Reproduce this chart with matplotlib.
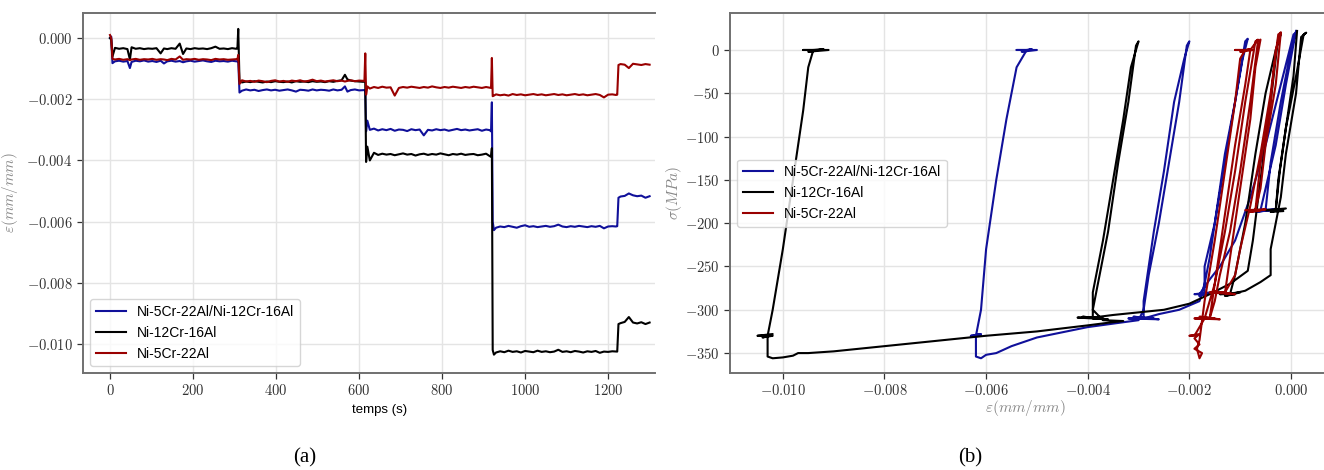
import numpy as np
import matplotlib
matplotlib.use("Agg")
import matplotlib.pyplot as plt
from matplotlib.ticker import FuncFormatter

plt.rcParams['mathtext.fontset'] = 'cm'

# ---------------- DATA ----------------
labels = ['Ni-5Cr-22Al/Ni-12Cr-16Al', 'Ni-12Cr-16Al', 'Ni-5Cr-22Al']
colors = ['#10109a', '#000000', '#990000']

time_s = [0, 3, 6,
          12, 22, 32, 42, 48, 52, 62, 72, 82, 92, 102, 112, 122, 130, 138, 148, 158, 168, 176, 184,
          194, 204, 214, 224, 234, 244, 254, 264, 274, 284, 294, 304,
          307, 309, 312,
          318, 328, 338, 348, 358, 368, 378, 388, 398, 408, 418, 428, 438, 448, 458, 468, 478, 488,
          498, 508, 518, 528, 538, 548, 558, 566, 572, 580, 590, 600, 610,
          613, 615, 617, 620,
          626, 636, 646, 656, 666, 676, 686, 696, 706, 716, 726, 736, 746, 756, 766, 776, 786, 796,
          806, 816, 826, 836, 846, 856, 866, 876, 886, 896, 906, 915,
          918, 920, 922, 925,
          930, 940, 950, 960, 970, 980, 990, 1000, 1010, 1020, 1030, 1040, 1050, 1060, 1070, 1080,
          1090, 1100, 1110, 1120, 1130, 1140, 1150, 1160, 1170, 1180, 1190, 1200, 1210, 1219,
          1222, 1225,
          1230, 1240, 1250, 1260, 1270, 1280, 1290, 1300]

strain_blue = [0.0, 0.00005, -0.00082,
    -0.00076, -0.00074, -0.00077, -0.00075, -0.00098, -0.00078, -0.00074, -0.00076, -0.00073, -0.00077,
    -0.00075, -0.00078, -0.00074, -0.00083, -0.00076, -0.00074, -0.00077, -0.00075, -0.00079, -0.00076,
    -0.00074, -0.00077, -0.00075, -0.00073, -0.00076, -0.00078, -0.00074, -0.00076, -0.00075, -0.00077,
    -0.00074, -0.00076,
    -0.00076, -0.00075, -0.00178,
    -0.00172, -0.00168, -0.00171, -0.00169, -0.00173, -0.00170, -0.00168, -0.00171, -0.00169, -0.00172,
    -0.00170, -0.00168, -0.00171, -0.00175, -0.00169, -0.00170, -0.00172, -0.00168, -0.00171, -0.00169,
    -0.00170, -0.00172, -0.00168, -0.00171, -0.00169, -0.00158, -0.00175, -0.00170, -0.00168, -0.00171,
    -0.00170,
    -0.00170, -0.00172, -0.00305, -0.00270,
    -0.00300, -0.00296, -0.00302, -0.00298, -0.00301, -0.00297, -0.00303, -0.00299, -0.00300, -0.00304,
    -0.00298, -0.00301, -0.00299, -0.00318, -0.00300, -0.00302, -0.00298, -0.00301, -0.00299, -0.00303,
    -0.00300, -0.00297, -0.00301, -0.00299, -0.00302, -0.00300, -0.00298, -0.00303, -0.00299, -0.00301,
    -0.00305, -0.00210, -0.00600, -0.00628,
    -0.00620, -0.00616, -0.00618, -0.00614, -0.00617, -0.00620, -0.00615, -0.00612, -0.00617, -0.00615,
    -0.00618, -0.00616, -0.00614, -0.00617, -0.00615, -0.00610, -0.00616, -0.00618, -0.00615, -0.00617,
    -0.00614, -0.00616, -0.00618, -0.00615, -0.00617, -0.00614, -0.00622, -0.00616, -0.00615, -0.00616,
    -0.00615, -0.00522,
    -0.00518, -0.00516, -0.00508, -0.00514, -0.00517, -0.00515, -0.00522, -0.00517]

strain_black = [0.0, -0.00005, -0.00060,
    -0.00032, -0.00035, -0.00033, -0.00036, -0.00070, -0.00030, -0.00035, -0.00033, -0.00036, -0.00034,
    -0.00035, -0.00033, -0.00050, -0.00034, -0.00036, -0.00033, -0.00035, -0.00018, -0.00052, -0.00034,
    -0.00036, -0.00033, -0.00035, -0.00034, -0.00036, -0.00033, -0.00028, -0.00035, -0.00034, -0.00036,
    -0.00033, -0.00035,
    -0.00034, 0.00030, -0.00140,
    -0.00145, -0.00142, -0.00144, -0.00141, -0.00143, -0.00145, -0.00142, -0.00144, -0.00141, -0.00143,
    -0.00144, -0.00142, -0.00145, -0.00141, -0.00143, -0.00142, -0.00144, -0.00141, -0.00143, -0.00142,
    -0.00144, -0.00141, -0.00143, -0.00140, -0.00138, -0.00120, -0.00135, -0.00139, -0.00141, -0.00142,
    -0.00143,
    -0.00142, -0.00145, -0.00405, -0.00355,
    -0.00400, -0.00375, -0.00382, -0.00378, -0.00381, -0.00379, -0.00383, -0.00380, -0.00377, -0.00381,
    -0.00379, -0.00384, -0.00380, -0.00378, -0.00382, -0.00379, -0.00381, -0.00377, -0.00380, -0.00383,
    -0.00379, -0.00381, -0.00378, -0.00382, -0.00380, -0.00379, -0.00383, -0.00381, -0.00378, -0.00386,
    -0.00388, -0.00360, -0.01020, -0.01035,
    -0.01028, -0.01024, -0.01027, -0.01022, -0.01026, -0.01024, -0.01028, -0.01023, -0.01025, -0.01027,
    -0.01022, -0.01026, -0.01024, -0.01027, -0.01025, -0.01019, -0.01026, -0.01024, -0.01027, -0.01023,
    -0.01025, -0.01028, -0.01024, -0.01026, -0.01023, -0.01029, -0.01025, -0.01026, -0.01024, -0.01025,
    -0.01025, -0.00935,
    -0.00932, -0.00928, -0.00912, -0.00930, -0.00933, -0.00929, -0.00935, -0.00930]

strain_red = [0.00010, 0.0, -0.00068,
    -0.00070, -0.00068, -0.00071, -0.00069, -0.00072, -0.00070, -0.00068, -0.00071, -0.00069, -0.00070,
    -0.00068, -0.00071, -0.00069, -0.00070, -0.00072, -0.00068, -0.00070, -0.00060, -0.00071, -0.00069,
    -0.00070, -0.00068, -0.00071, -0.00069, -0.00070, -0.00072, -0.00068, -0.00070, -0.00069, -0.00071,
    -0.00070, -0.00069,
    -0.00070, -0.00055, -0.00150,
    -0.00138, -0.00142, -0.00140, -0.00143, -0.00139, -0.00141, -0.00144, -0.00140, -0.00138, -0.00142,
    -0.00140, -0.00143, -0.00139, -0.00141, -0.00138, -0.00142, -0.00140, -0.00136, -0.00141, -0.00139,
    -0.00142, -0.00140, -0.00138, -0.00141, -0.00139, -0.00142, -0.00140, -0.00138, -0.00141, -0.00139,
    -0.00140,
    -0.00140, -0.00050, -0.00185, -0.00158,
    -0.00165, -0.00160, -0.00163, -0.00159, -0.00162, -0.00161, -0.00188, -0.00163, -0.00160, -0.00162,
    -0.00159, -0.00161, -0.00163, -0.00160, -0.00162, -0.00158, -0.00161, -0.00163, -0.00160, -0.00162,
    -0.00159, -0.00161, -0.00163, -0.00160, -0.00162, -0.00159, -0.00161, -0.00163, -0.00160, -0.00162,
    -0.00163, -0.00065, -0.00190, -0.00188,
    -0.00184, -0.00187, -0.00185, -0.00188, -0.00183, -0.00186, -0.00184, -0.00187, -0.00185, -0.00183,
    -0.00186, -0.00184, -0.00187, -0.00185, -0.00183, -0.00186, -0.00184, -0.00187, -0.00185, -0.00183,
    -0.00186, -0.00184, -0.00187, -0.00185, -0.00183, -0.00186, -0.00194, -0.00185, -0.00184, -0.00186,
    -0.00185, -0.00088,
    -0.00085, -0.00087, -0.00098, -0.00084, -0.00086, -0.00088, -0.00085, -0.00087]

# stress-strain paths (panel b)
eps_blue = [0.0001, -0.0001, -0.0003, -0.0005, -0.0006,
            -0.0008, -0.0003, -0.0007, -0.0004, -0.0005,
            -0.0004, -0.0002, 0.0, 0.0001,
            0.00005, -0.0002, -0.0005, -0.0008, -0.0011, -0.0014, -0.0016, -0.0018,
            -0.0019, -0.0016, -0.0018, -0.00165, -0.0017,
            -0.0017, -0.0015, -0.0013, -0.0011, -0.00095, -0.00085,
            -0.0009, -0.0011, -0.0013, -0.0015, -0.0016, -0.0017, -0.0018, -0.0022, -0.0026, -0.0029,
            -0.0032, -0.0026, -0.0031, -0.0027, -0.0029,
            -0.0029, -0.0027, -0.0025, -0.0023, -0.0021, -0.0020,
            -0.00205, -0.0022, -0.0024, -0.0026, -0.0028, -0.0029, -0.0030, -0.0035, -0.0040, -0.0050,
            -0.0055, -0.0058, -0.0060, -0.0061, -0.0062, -0.0062, -0.0062,
            -0.0063, -0.0061, -0.0063, -0.0061, -0.0062,
            -0.0061, -0.0060, -0.0058, -0.0056, -0.0054, -0.0052,
            -0.0054, -0.0050, -0.0053, -0.0051, -0.0052]
sig_blue = [22, -40, -110, -160, -185,
            -185, -184, -187, -185, -185,
            -130, -60, 0, 20,
            18, -40, -110, -170, -220, -250, -265, -282,
            -282, -280, -284, -281, -282,
            -250, -200, -120, -60, -10, 13,
            10, -60, -130, -200, -240, -270, -290, -300, -305, -310,
            -310, -311, -308, -310, -310,
            -290, -210, -140, -60, -10, 10,
            5, -60, -130, -200, -260, -300, -312, -316, -320, -332,
            -342, -350, -352, -356, -354, -340, -330,
            -330, -328, -331, -330, -330,
            -300, -230, -150, -80, -20, 0,
            0, 0, -2, 1, 0]

eps_black = [0.00012, 0.00005, -0.0001, -0.00022, -0.0003,
             -0.0005, -0.0001, -0.0004, -0.00015, -0.0003,
             -0.00025, -0.0001, 0.0001, 0.00025, 0.0003,
             0.0002, 0.0001, -0.0001, -0.0002, -0.0003, -0.0004, -0.0004, -0.0006, -0.0009, -0.0012,
             -0.0014, -0.0010, -0.0013, -0.0011, -0.0012,
             -0.0011, -0.0009, -0.0007, -0.0005, -0.0003, -0.0002,
             -0.00025, -0.0004, -0.0006, -0.00075, -0.00085, -0.0012, -0.0016, -0.0020, -0.0025,
             -0.0030, -0.0035, -0.0039,
             -0.0042, -0.0036, -0.0041, -0.0037, -0.0039,
             -0.0039, -0.0037, -0.0035, -0.0033, -0.00315, -0.0030,
             -0.00305, -0.0032, -0.0034, -0.0036, -0.0038, -0.0039, -0.0037, -0.0033, -0.0036, -0.0040,
             -0.0050, -0.0060, -0.0070, -0.0080, -0.0090, -0.0095, -0.0097, -0.0098, -0.0100, -0.0102,
             -0.0103, -0.0103, -0.0103,
             -0.0105, -0.0102, -0.0104, -0.0102, -0.0103,
             -0.0102, -0.0100, -0.0098, -0.0096, -0.0095, -0.0094,
             -0.0096, -0.0091, -0.0095, -0.0092, -0.0094]
sig_black = [22, -30, -90, -140, -185,
             -185, -183, -187, -186, -185,
             -150, -90, -30, 18, 20,
             15, -50, -120, -170, -200, -230, -260, -268, -278, -282,
             -282, -280, -284, -282, -282,
             -260, -200, -120, -50, 0, 18,
             15, -60, -150, -220, -255, -270, -282, -293, -300,
             -303, -306, -309,
             -309, -311, -308, -310, -310,
             -280, -220, -150, -80, -20, 10,
             5, -60, -130, -210, -270, -300, -312, -313, -315, -318,
             -325, -330, -336, -342, -348, -350, -350, -353, -355, -356,
             -354, -340, -330,
             -330, -328, -332, -330, -330,
             -300, -230, -150, -70, -20, 0,
             0, 0, -2, 1, 0]

eps_red = [-0.0002, -0.0003, -0.0005, -0.0006, -0.0007,
           -0.0009, -0.0005, -0.0008, -0.0006, -0.0007,
           -0.0006, -0.0004, -0.0003, -0.0002,
           -0.00025, -0.0004, -0.0006, -0.0008, -0.0010, -0.0011, -0.0013,
           -0.0016, -0.0011, -0.0015, -0.0012, -0.0013,
           -0.0012, -0.0010, -0.0008, -0.0007, -0.0006,
           -0.00065, -0.0008, -0.0010, -0.0012, -0.0014, -0.0015, -0.0016,
           -0.0019, -0.0014, -0.0018, -0.0015, -0.0016,
           -0.0015, -0.0013, -0.0011, -0.0009, -0.0008, -0.00065,
           -0.0007, -0.0009, -0.0011, -0.0013, -0.0015, -0.0017, -0.0019,
           -0.0020, -0.0018, -0.0019, -0.0018, -0.0019, -0.00175, -0.0018, -0.00185, -0.0018,
           -0.0017, -0.0015, -0.0013, -0.0011, -0.0010, -0.0009,
           -0.0011, -0.00075, -0.0010, -0.0008, -0.0009]
sig_red = [20, -40, -110, -160, -185,
           -185, -184, -187, -185, -185,
           -130, -60, 0, 20,
           18, -50, -120, -180, -230, -260, -280,
           -280, -282, -279, -281, -281,
           -240, -160, -80, -20, 12,
           10, -60, -140, -210, -260, -290, -310,
           -310, -311, -308, -310, -310,
           -270, -190, -110, -40, 0, 12,
           10, -60, -140, -210, -270, -310, -330,
           -330, -328, -333, -340, -345, -350, -356, -345, -335,
           -290, -220, -140, -60, -10, 0,
           0, 0, -2, 1, 0]

# ---------------- FIGURE ----------------
fig = plt.figure(figsize=(13.24, 4.70), dpi=100)
axA = fig.add_axes([83/1324, 1-373/470, (655-83)/1324, 360/470])
axB = fig.add_axes([730/1324, 1-373/470, (1324-730)/1324, 360/470])

spine_col = '#707070'
for ax in (axA, axB):
    for s in ('top', 'left', 'bottom'):
        ax.spines[s].set_color(spine_col)
        ax.spines[s].set_linewidth(1.4)
    ax.spines['right'].set_visible(False)
    ax.grid(True, color='#e4e4e4', lw=1.0)
    ax.set_axisbelow(True)
    ax.tick_params(direction='out', length=4, width=0.9, color='#333333',
                   labelsize=10.5, labelcolor='#333333')

lw = 1.5
axA.plot(time_s, strain_blue, color=colors[0], lw=lw, label=labels[0])
axA.plot(time_s, strain_black, color=colors[1], lw=lw, label=labels[1])
axA.plot(time_s, strain_red, color=colors[2], lw=lw, label=labels[2])
axA.set_xlim(-65, 1313)
axA.set_ylim(-0.01095, 0.00082)
axA.set_xticks([0, 200, 400, 600, 800, 1000, 1200])
axA.set_yticks([0.0, -0.002, -0.004, -0.006, -0.008, -0.010])
axA.xaxis.set_major_formatter(FuncFormatter(lambda v, p: f'${v:.0f}$'))
axA.yaxis.set_major_formatter(FuncFormatter(lambda v, p: f'${v:.3f}$'))
axA.set_xlabel('temps (s)', family='Liberation Sans', fontsize=9.5)
axA.xaxis.set_label_coords((380 - 83) / 572, -0.085)
axA.set_ylabel(r'$\varepsilon(mm/mm)$', color='#888888', fontsize=11)
axA.yaxis.set_label_coords(-0.11, 0.5)
axA.legend(loc='lower left', prop={'family': 'Liberation Sans', 'size': 10},
           handlelength=2.2)

axB.plot(eps_blue, sig_blue, color=colors[0], lw=lw, label=labels[0])
axB.plot(eps_black, sig_black, color=colors[1], lw=lw, label=labels[1])
axB.plot(eps_red, sig_red, color=colors[2], lw=lw, label=labels[2])
axB.set_xlim(-0.01104, 0.00065)
axB.set_ylim(-373, 42.7)
axB.set_xticks([-0.010, -0.008, -0.006, -0.004, -0.002, 0.0])
axB.set_yticks([0, -50, -100, -150, -200, -250, -300, -350])
axB.xaxis.set_major_formatter(FuncFormatter(lambda v, p: f'${v:.3f}$'))
axB.yaxis.set_major_formatter(FuncFormatter(lambda v, p: f'${v:.0f}$'))
axB.set_xlabel(r'$\varepsilon(mm/mm)$', color='#888888', fontsize=11)
axB.xaxis.set_label_coords((1025 - 730) / 594, -0.07)
axB.set_ylabel(r'$\sigma(MPa)$', color='#888888', fontsize=11)
axB.yaxis.set_label_coords(-(730 - 684) / 594, 0.5)
axB.legend(loc='center left', prop={'family': 'Liberation Sans', 'size': 10},
           handlelength=2.2)

fig.text(305/1324, 1-458/470, '(a)', family='Liberation Serif', fontsize=15,
         ha='center', va='center')
fig.text(970/1324, 1-458/470, '(b)', family='Liberation Serif', fontsize=15,
         ha='center', va='center')

fig.savefig('out.png', dpi=100)
